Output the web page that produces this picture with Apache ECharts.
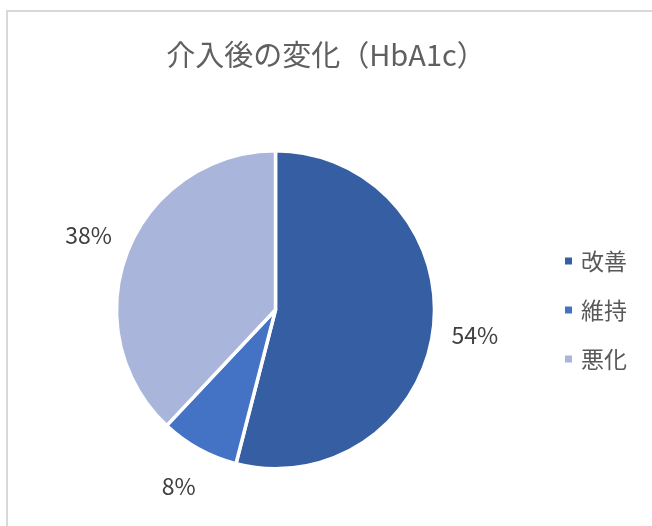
<!DOCTYPE html>
<html>
<head>
<meta charset="utf-8">
<script src="https://cdn.jsdelivr.net/npm/echarts@6/dist/echarts.min.js"></script>
<style>
  html, body { margin: 0; padding: 0; background: #fff; }
  #chart { width: 652px; height: 526px; }
</style>
</head>
<body>
<div id="chart"></div>
<script>
// HbA1c outcome after the intervention (share of participants, %)
const categories = ['改善', '維持', '悪化'];
const shares = [54, 8, 38];
const colors = ['#365FA3', '#4472C4', '#A9B5DA'];

const FONT = '"Noto Sans CJK JP", "Noto Sans", sans-serif';
const CENTER = [275.5, 309.7];

const pieData = categories.map((name, i) => ({
  name: name,
  value: shares[i],
  itemStyle: { color: colors[i] }
}));

const chart = echarts.init(document.getElementById('chart'), null, { renderer: 'canvas' });

chart.setOption({
  backgroundColor: '#ffffff',
  animation: false,
  title: {
    text: '介入後の変化（HbA1c）',
    left: 'center',
    top: 35,
    textStyle: {
      fontFamily: FONT,
      fontSize: 29,
      fontWeight: 'normal',
      color: '#606060'
    }
  },
  legend: {
    orient: 'vertical',
    left: 558,
    top: 244,
    itemWidth: 9,
    itemHeight: 9,
    itemGap: 25,
    icon: 'rect',
    data: categories,
    textStyle: {
      fontFamily: FONT,
      fontSize: 23,
      lineHeight: 24,
      color: '#595959',
      padding: [0, 0, 0, 3]
    }
  },
  graphic: [{
    type: 'rect',
    silent: true,
    shape: { x: 7, y: 11, width: 800, height: 700 },
    style: { fill: 'none', stroke: '#D9D9D9', lineWidth: 2 }
  }],
  series: [
    {
      // the slices themselves
      type: 'pie',
      center: CENTER,
      radius: 159,
      startAngle: 90,
      clockwise: true,
      silent: true,
      label: { show: false },
      labelLine: { show: false },
      itemStyle: { borderColor: '#ffffff', borderWidth: 3.5 },
      data: pieData
    },
    {
      // percentage labels, carried by a transparent ring just outside the pie
      type: 'pie',
      center: CENTER,
      radius: [190, 206],
      startAngle: 90,
      clockwise: true,
      silent: true,
      legendHoverLink: false,
      itemStyle: { color: 'rgba(0,0,0,0)', borderWidth: 0 },
      labelLine: { show: false },
      label: {
        show: true,
        position: 'inside',
        formatter: p => p.value + '%',
        fontFamily: FONT,
        fontSize: 23,
        color: '#404040'
      },
      data: categories.map((name, i) => ({ name: name, value: shares[i] }))
    }
  ]
});
</script>
</body>
</html>
